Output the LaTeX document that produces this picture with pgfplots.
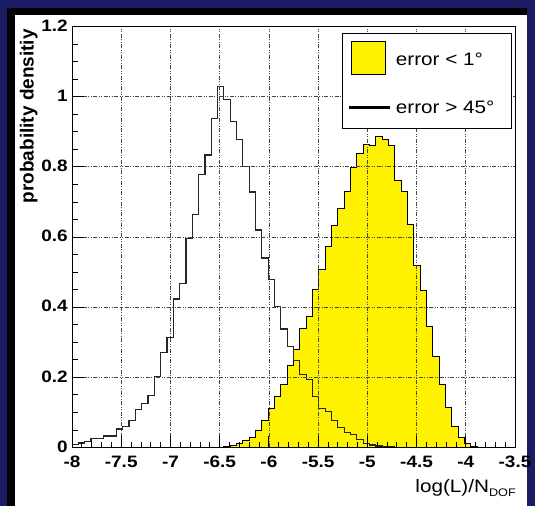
\documentclass[border=0pt]{standalone}
\usepackage{fontspec}
\setmainfont{Liberation Sans}[FakeStretch=1.15]
\newfontfamily\ylabfont{Liberation Sans}
\usepackage{pgfplots}
\usepackage{pgfplotstable}
\pgfplotsset{compat=1.18}
\definecolor{bgblue}{RGB}{28,28,100}
\definecolor{gridgray}{RGB}{70,70,70}

\pgfplotstableread{
x blk yel
-8.0000 0.009 0
-7.9357 0.013 0
-7.8714 0.017 0
-7.8071 0.025 0
-7.7429 0.025 0
-7.6786 0.033 0
-7.6143 0.033 0
-7.5500 0.053 0
-7.4857 0.059 0
-7.4214 0.076 0
-7.3571 0.109 0
-7.2929 0.126 0
-7.2286 0.149 0
-7.1643 0.202 0
-7.1000 0.270 0
-7.0357 0.313 0
-6.9714 0.423 0
-6.9071 0.467 0
-6.8429 0.596 0
-6.7786 0.665 0
-6.7143 0.779 0
-6.6500 0.834 0
-6.5857 0.938 0
-6.5214 1.030 0.001
-6.4571 0.991 0.002
-6.3929 0.929 0.006
-6.3286 0.877 0.011
-6.2643 0.801 0.019
-6.2000 0.728 0.030
-6.1357 0.620 0.050
-6.0714 0.540 0.078
-6.0071 0.479 0.111
-5.9429 0.403 0.146
-5.8786 0.338 0.181
-5.8143 0.289 0.234
-5.7500 0.249 0.281
-5.6857 0.208 0.340
-5.6214 0.193 0.374
-5.5571 0.146 0.452
-5.4929 0.112 0.508
-5.4286 0.102 0.573
-5.3643 0.078 0.633
-5.3000 0.057 0.682
-5.2357 0.042 0.731
-5.1714 0.036 0.797
-5.1071 0.023 0.837
-5.0429 0.012 0.863
-4.9786 0.007 0.862
-4.9143 0.004 0.886
-4.8500 0.002 0.879
-4.7857 0.002 0.862
-4.7214 0.001 0.762
-4.6571 0.001 0.730
-4.5929 0.001 0.635
-4.5286 0 0.520
-4.4643 0 0.447
-4.4000 0 0.346
-4.3357 0 0.261
-4.2714 0 0.181
-4.2071 0 0.113
-4.1429 0 0.060
-4.0786 0 0.029
-4.0143 0 0.011
-3.9500 0.001 0.004
-3.8857 0.001 0.001
-3.8214 0 0
-3.7571 0 0
-3.6929 0 0
-3.6286 0 0
-3.5643 0 0
-3.5000 0 0
}\histdata

\begin{document}
\begin{tikzpicture}
\useasboundingbox (0,0) rectangle (535bp,506bp);
\fill[bgblue] (0,0) rectangle (535bp,506bp);
\fill[black] (7bp,0) rectangle (527bp,498bp);
\fill[white] (15bp,0) rectangle (527bp,491bp);
\begin{axis}[
  at={(72bp,58.5bp)}, anchor=south west,
  scale only axis, width=443bp, height=421bp,
  xmin=-8, xmax=-3.5, ymin=0, ymax=1.2,
  xtick={-8,-7.5,-7,-6.5,-6,-5.5,-5,-4.5,-4,-3.5},
  xticklabels={-8,-7.5,-7,-6.5,-6,-5.5,-5,-4.5,-4,-3.5},
  ytick={0,0.2,0.4,0.6,0.8,1,1.2},
  yticklabels={0,0.2,0.4,0.6,0.8,1,1.2},
  minor x tick num=4, minor y tick num=3,
  xtick pos=left, ytick pos=left,
  tick align=inside,
  major tick length=12bp, minor tick length=6bp,
  tick style={black, line width=0.8bp},
  axis line style={black, line width=0.9bp},
  grid=major,
  major grid style={gridgray, line width=0.7bp, dash pattern=on 4bp off 1.5bp on 1bp off 1.5bp on 1bp off 1.5bp},
  axis on top,
  tick label style={font=\bfseries\fontsize{16.5bp}{17bp}\selectfont},
  xticklabel style={inner sep=0pt, yshift=-8bp},
  yticklabel style={inner sep=0pt, xshift=-4bp, yshift=1bp},
  xlabel={log(L)/N\raisebox{-4bp}{\fontsize{11bp}{11bp}\selectfont DOF}},
  xlabel style={at={(rel axis cs:1,0)}, anchor=north east, inner sep=0pt, xshift=1bp, yshift=-32bp, font=\fontsize{18bp}{20bp}\selectfont},
  ylabel={probability densitiy},
  ylabel style={at={(rel axis cs:-0.0774,0.9941)}, anchor=south east, inner sep=0pt, font=\ylabfont\bfseries\fontsize{19bp}{21bp}\selectfont},
  legend style={at={(0.9932,0.9838)}, anchor=north east, draw=black, line width=1bp, fill=white,
    inner xsep=5bp, inner ysep=7bp, row sep=14bp, column sep=4.7bp,
    font=\fontsize{18bp}{20bp}\selectfont, nodes={inner sep=0pt}},
  legend cell align=left,
]
\addplot[const plot mark left, fill=yellow, draw=black, line width=0.8bp,
  legend image code/.code={\draw[fill=yellow, draw=black, line width=0.8bp] (0bp,-14bp) rectangle (34bp,19bp);}]
  table[x=x, y=yel] {\histdata} \closedcycle;
\addlegendentry{error < 1°\hspace*{12bp}}
\addplot[const plot mark left, draw=black!85, line width=1.2bp,
  legend image code/.code={\path[draw=none, fill=none] (0bp,-14bp) rectangle (34bp,19bp); \draw[black, line width=2.5bp] (-2.5bp,0bp) -- (38.5bp,0bp);}]
  table[x=x, y=blk] {\histdata};
\addlegendentry{error > 45°\hspace*{12bp}}
\end{axis}
\end{tikzpicture}
\end{document}
